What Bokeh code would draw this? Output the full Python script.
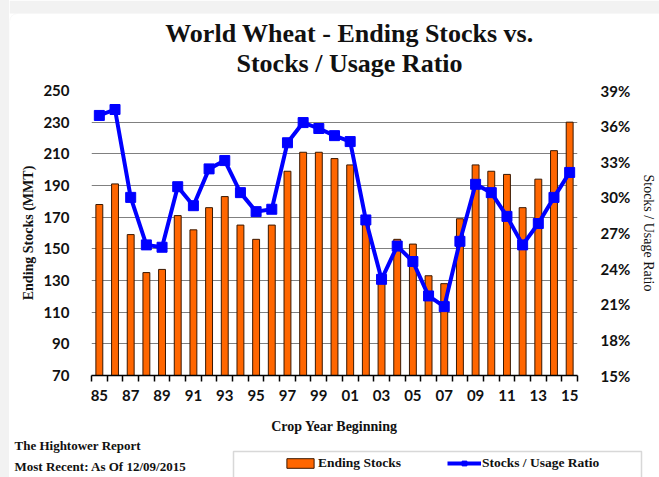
from bokeh.plotting import figure
from bokeh.layouts import column, row
from bokeh.models import (Range1d, LinearAxis, FixedTicker, Label, BoxAnnotation,
                          Legend, LegendItem, PrintfTickFormatter, Div)
from bokeh.embed import file_html
from bokeh.resources import INLINE

# Crop years (two-digit labels) and the two series
years = ["85", "86", "87", "88", "89", "90", "91", "92", "93", "94", "95", "96",
         "97", "98", "99", "00", "01", "02", "03", "04", "05", "06", "07", "08",
         "09", "10", "11", "12", "13", "14", "15"]
ending_stocks = [178, 191, 159, 135, 137, 171, 162, 176, 183, 165, 156, 165,
                 199, 211, 211, 207, 203, 166, 134, 156, 153, 133, 128, 169,
                 203, 199, 197, 176, 194, 212, 230]
stocks_usage_pct = [36.9, 37.4, 30.0, 26.0, 25.8, 30.9, 29.3, 32.4, 33.1, 30.4, 28.8, 29.0,
                    34.6, 36.3, 35.8, 35.2, 34.7, 28.1, 23.1, 25.9, 24.6, 21.7, 20.8, 26.3,
                    31.1, 30.4, 28.4, 26.0, 27.8, 30.0, 32.1]

stock_ticks = list(range(70, 251, 20))
pct_ticks = list(range(15, 40, 3))

SERIF = "Liberation Serif"
SANS = "Lato"
INK = "#111111"
PAGE_GRAY = "#f2f2f2"
BAR_STYLE = dict(fill_color="#FF6600", line_color="#3a1800", line_width=1)
LINE_STYLE = dict(line_color="#0000FF", line_width=4)
MARK_STYLE = dict(marker="square", size=10, fill_color="#0000FF", line_color="#0000FF")

PAGE_W, PAGE_H = 659, 477
EDGE = 9                       # grey page edge left of the white card
W = PAGE_W - EDGE
TOP_H, MAIN_H, FOOT_H = 80, 359, 38

x = list(range(len(years)))


def strip(height, y_top):
    """A plain white strip whose data space is measured in page pixels."""
    s = figure(width=W, height=height, output_backend="svg", toolbar_location=None,
               title=None, x_range=Range1d(EDGE, PAGE_W),
               y_range=Range1d(y_top + height, y_top),
               x_axis_type=None, y_axis_type=None, min_border=0,
               background_fill_color="white", border_fill_color="white")
    s.outline_line_color = None
    s.xgrid.grid_line_color = None
    s.ygrid.grid_line_color = None
    s.frame_align = False
    return s


# ---------------- title strip ----------------
top = strip(TOP_H, 0)
top.add_layout(BoxAnnotation(left=EDGE, right=PAGE_W, top=0, bottom=13,
                             fill_color=PAGE_GRAY, fill_alpha=1, line_color=None))
top.add_layout(BoxAnnotation(left=EDGE, right=PAGE_W + 20, top=13, bottom=TOP_H + 20,
                             fill_color="white", fill_alpha=1, line_color="#ebebeb",
                             border_radius=8))
for txt, yy in [("World Wheat - Ending Stocks vs.", 33), ("Stocks / Usage Ratio", 63)]:
    top.add_layout(Label(x=349, y=yy, text=txt, text_align="center",
                         text_baseline="middle", text_font=SERIF,
                         text_font_style="bold", text_font_size="26px", text_color=INK))

# ---------------- main chart ----------------
p = figure(width=W, height=MAIN_H, output_backend="svg", toolbar_location=None,
           title=None, x_range=Range1d(-0.5, len(years) - 0.5), y_range=Range1d(70, 250),
           min_border_left=91 - EDGE, min_border_right=74, min_border_top=10,
           min_border_bottom=64, background_fill_color="white",
           border_fill_color="white")
p.frame_align = False
p.outline_line_color = None
p.extra_y_ranges = {"ratio": Range1d(15, 39)}

p.vbar(x=x, top=ending_stocks, bottom=70, width=0.44, **BAR_STYLE)
p.line(x=x, y=stocks_usage_pct, y_range_name="ratio", **LINE_STYLE)
p.scatter(x=x, y=stocks_usage_pct, y_range_name="ratio", **MARK_STYLE)

# x axis: ticks on category boundaries, labels on every other year
xaxis = p.xaxis[0]
xaxis.ticker = FixedTicker(ticks=list(range(0, len(years), 2)),
                           minor_ticks=[i - 0.5 for i in range(len(years) + 1)])
xaxis.major_label_overrides = {i: years[i] for i in range(0, len(years), 2)}
xaxis.major_tick_line_color = None
xaxis.minor_tick_line_color = "black"
xaxis.minor_tick_line_width = 1.5
xaxis.minor_tick_in = 0
xaxis.minor_tick_out = 6
xaxis.axis_line_color = "black"
xaxis.axis_line_width = 1.5
xaxis.major_label_standoff = 8
xaxis.major_label_text_font = SANS
xaxis.major_label_text_font_style = "bold"
xaxis.major_label_text_font_size = "15px"
xaxis.major_label_text_color = INK
xaxis.axis_label = "Crop Year Beginning"
xaxis.axis_label_text_font = SERIF
xaxis.axis_label_text_font_style = "bold"
xaxis.axis_label_text_font_size = "14px"
xaxis.axis_label_text_color = INK
xaxis.axis_label_standoff = 15

# left axis: ending stocks
yaxis = p.yaxis[0]
yaxis.ticker = FixedTicker(ticks=stock_ticks)
yaxis.axis_line_color = None
yaxis.major_tick_line_color = None
yaxis.minor_tick_line_color = None
yaxis.major_label_standoff = 16
yaxis.major_label_text_font = SANS
yaxis.major_label_text_font_style = "bold"
yaxis.major_label_text_font_size = "15px"
yaxis.major_label_text_color = INK
yaxis.axis_label = "Ending Stocks (MMT)"
yaxis.axis_label_text_font = SERIF
yaxis.axis_label_text_font_style = "bold"
yaxis.axis_label_text_font_size = "14px"
yaxis.axis_label_text_color = INK
yaxis.axis_label_standoff = 4

# right axis: stocks / usage ratio in percent
raxis = LinearAxis(y_range_name="ratio", ticker=FixedTicker(ticks=pct_ticks),
                   formatter=PrintfTickFormatter(format="%d%%"))
raxis.axis_line_color = None
raxis.major_tick_line_color = None
raxis.minor_tick_line_color = None
raxis.major_label_standoff = 17
raxis.major_label_text_font = SANS
raxis.major_label_text_font_style = "bold"
raxis.major_label_text_font_size = "15px"
raxis.major_label_text_color = INK
raxis.axis_label = "Stocks / Usage Ratio"
raxis.axis_label_text_font = SERIF
raxis.axis_label_text_font_style = "normal"
raxis.axis_label_text_font_size = "14px"
raxis.axis_label_text_color = INK
raxis.axis_label_standoff = 8
p.add_layout(raxis, "right")

p.xgrid.grid_line_color = None
p.ygrid.ticker = FixedTicker(ticks=stock_ticks)
p.ygrid.grid_line_color = "#808080"
p.ygrid.grid_line_width = 1

# ---------------- footer strip: notes and legend ----------------
foot_top = TOP_H + MAIN_H
f = strip(FOOT_H, foot_top)

for txt, yy in [("The Hightower Report", 445), ("Most Recent: As Of 12/09/2015", 466)]:
    f.add_layout(Label(x=14, y=yy, text=txt, text_align="left", text_baseline="middle",
                       text_font=SERIF, text_font_style="bold",
                       text_font_size="13px", text_color=INK))

f.add_layout(BoxAnnotation(left=233, right=641, top=451, bottom=500,
                           fill_color="white", fill_alpha=1,
                           line_color="#7f7f7f", line_width=1.5))

# legend keys: the same two series, styled as in the chart, mapped onto ranges
# that lie off this strip so that only the legend swatches show
f.extra_x_ranges = {"keys": Range1d(-2000, -1000)}
f.extra_y_ranges = {"keys": Range1d(-2000, -1000)}
key_bar = f.vbar(x=x, top=ending_stocks, bottom=70, width=0.44,
                 x_range_name="keys", y_range_name="keys", **BAR_STYLE)
key_line = f.line(x=x, y=stocks_usage_pct, x_range_name="keys", y_range_name="keys",
                  **LINE_STYLE)
key_mark = f.scatter(x=x, y=stocks_usage_pct, x_range_name="keys", y_range_name="keys",
                     **MARK_STYLE)

legend = Legend(items=[LegendItem(label="Ending Stocks", renderers=[key_bar]),
                       LegendItem(label="Stocks / Usage Ratio",
                                  renderers=[key_line, key_mark])],
                orientation="horizontal", location=(283 - EDGE, 6),
                border_line_color=None, background_fill_alpha=0,
                padding=0, margin=0, spacing=46,
                glyph_width=34, glyph_height=12, label_height=12, label_standoff=1,
                label_text_font=SERIF, label_text_font_style="bold",
                label_text_font_size="13.5px", label_text_color=INK)
f.add_layout(legend)

# grey page edge on the left, then the white card
page_edge = Div(text="", width=EDGE, height=PAGE_H, margin=0,
                styles={"background-color": PAGE_GRAY})
layout = row(page_edge, column(top, p, f, spacing=0), spacing=0)
open("out.html", "w").write(file_html(layout, INLINE))
